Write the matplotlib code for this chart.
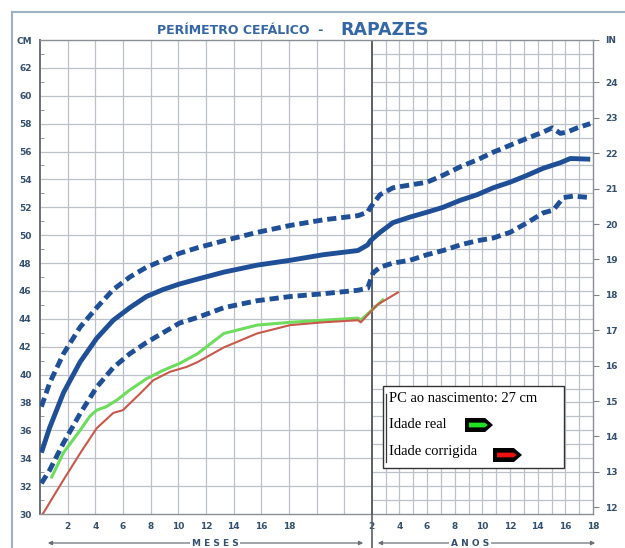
import numpy as np
import matplotlib.pyplot as plt
from matplotlib.patches import Polygon, Rectangle
from matplotlib.lines import Line2D

W, H = 625, 548

# ages in months (birth .. 18 years), head circumference in cm
p97_age = [0.1, 0.7, 1.7, 2.9, 4.1, 5.3, 6.5, 7.7, 8.9, 10.1, 11.4, 13.3, 15.7, 18.1, 20.5, 23.0, 23.7, 23.9,
           31.1, 42.4, 57.2, 72.0, 85.9, 100.7, 115.4, 129.4, 144.0, 159.0, 172.8, 180.7, 187.7, 193.7, 202.4, 213.6]
p97_cm = [37.7, 39.4, 41.5, 43.4, 44.8, 46.1, 47.0, 47.7, 48.2, 48.7, 49.1, 49.6, 50.2, 50.7, 51.1, 51.4, 51.65, 52.0,
          52.9, 53.4, 53.6, 53.8, 54.3, 54.9, 55.4, 55.95, 56.45, 56.95, 57.4, 57.7, 57.3, 57.4, 57.7, 58.0]

p50_age = [0.1, 0.7, 1.7, 2.9, 4.1, 5.3, 6.5, 7.7, 8.9, 10.1, 11.4, 13.3, 15.7, 18.1, 20.5, 23.0, 23.7, 23.9,
           31.1, 42.4, 57.2, 72.0, 85.9, 100.7, 115.4, 129.4, 144.0, 159.0, 172.8, 187.7, 196.3, 213.6]
p50_cm = [34.4, 36.2, 38.7, 40.9, 42.6, 43.9, 44.8, 45.6, 46.1, 46.5, 46.85, 47.35, 47.85, 48.2, 48.6, 48.9, 49.3, 49.6,
          50.2, 50.9, 51.3, 51.65, 52.0, 52.5, 52.9, 53.4, 53.8, 54.3, 54.8, 55.2, 55.5, 55.45]

p3_age = [0.1, 0.7, 1.7, 2.9, 4.1, 5.3, 6.5, 7.7, 8.9, 10.1, 11.4, 13.3, 15.7, 18.1, 20.5, 23.0, 23.7,
          25.1, 31.1, 42.4, 57.2, 72.0, 85.9, 100.7, 115.4, 129.4, 144.0, 159.0, 172.8, 181.6, 190.3, 199.0, 213.6]
p3_cm = [32.2, 33.15, 35.1, 37.2, 39.1, 40.5, 41.5, 42.3, 43.0, 43.7, 44.1, 44.8, 45.3, 45.6, 45.8, 46.05, 46.2,
         47.3, 47.7, 48.0, 48.2, 48.6, 48.9, 49.3, 49.6, 49.8, 50.2, 50.9, 51.6, 51.8, 52.7, 52.8, 52.7]

real_age = [0.85, 1.7, 2.9, 3.6, 4.1, 4.8, 5.6, 6.5, 7.7, 8.9, 10.1, 11.4, 13.3, 15.7, 18.1, 20.5, 23.0, 23.2, 33.6]
real_cm = [32.65, 34.4, 36.0, 37.0, 37.45, 37.7, 38.2, 38.9, 39.7, 40.3, 40.8, 41.5, 42.95, 43.55, 43.75, 43.9,
           44.05, 43.9, 45.35]

corr_age = [0.2, 1.7, 2.9, 4.1, 5.3, 6.0, 7.25, 8.2, 9.4, 10.6, 11.4, 13.3, 15.7, 18.1, 20.5, 23.0, 23.2, 28.6, 46.8]
corr_cm = [30.0, 32.45, 34.35, 36.15, 37.25, 37.45, 38.65, 39.6, 40.2, 40.55, 40.9, 41.95, 42.95, 43.55, 43.75,
           43.9, 43.75, 45.0, 45.9]

month_ticks = [2, 4, 6, 8, 10, 12, 14, 16, 18]
year_ticks = [2, 4, 6, 8, 10, 12, 14, 16, 18]
cm_ticks = list(range(30, 64, 2))
in_ticks = list(range(12, 25))

BLUE = "#1f4f97"
GRID = "#bcc0c8"
LABEL = "#33506e"
TITLE = "#3567a6"
NARROW = ["Liberation Sans Narrow", "DejaVu Sans"]


def fwd(m):
    m = np.asarray(m, dtype=float)
    return np.where(m <= 24, m, 24 + (m - 24) / 12.0)


def inv(u):
    u = np.asarray(u, dtype=float)
    return np.where(u <= 24, u, 24 + (u - 24) * 12.0)


def px(x, y):
    return x / W, 1 - y / H


fig = plt.figure(figsize=(W / 100, H / 100), dpi=100)
ax = fig.add_axes([40 / W, 1 - 514 / H, 553 / W, 474 / H])
ax.set_xscale("function", functions=(fwd, inv))
ax.set_xlim(0, 216)
ax.set_ylim(30, 64)

# grid: coarse in the months part, fine in the years part
ax.vlines(np.arange(2, 24, 2), 30, 64, color=GRID, lw=0.9, zorder=0)
ax.vlines(np.arange(36, 216, 12), 30, 64, color=GRID, lw=0.9, zorder=0)
ax.hlines(np.arange(32, 64, 2), 0, 24, color=GRID, lw=0.9, zorder=0)
ax.hlines(np.arange(31, 64, 1), 24, 216, color=GRID, lw=0.9, zorder=0)
ax.axvline(24, color="#5a5f66", lw=1.4, zorder=1)

dash = dict(color=BLUE, lw=3.5, dashes=(1.9, 1.0), dash_capstyle="butt", zorder=3)
ax.plot(p97_age, p97_cm, **dash)
ax.plot(p3_age, p3_cm, **dash)
ax.plot(p50_age, p50_cm, color=BLUE, lw=3.5, solid_capstyle="butt", zorder=3)
ax.plot(real_age, real_cm, color="#6edc5c", lw=2.2, zorder=4)
ax.plot(corr_age, corr_cm, color="#c8584a", lw=1.5, zorder=5)

for s in ax.spines.values():
    s.set_color("#8a8f96")
    s.set_linewidth(1.0)
ax.spines["left"].set_color("#6b7078")
ax.spines["left"].set_linewidth(1.4)

ax.set_xticks(month_ticks + [12 * y for y in year_ticks])
ax.set_xticklabels([str(m) for m in month_ticks] + [str(y) for y in year_ticks])
ax.xaxis.set_minor_locator(plt.NullLocator())
ax.set_yticks(cm_ticks + [64])
ax.set_yticklabels([str(c) for c in cm_ticks] + ["CM"])
ax.set_yticks(np.arange(31, 64, 2), minor=True)
ax.tick_params(axis="x", length=0, pad=6, labelsize=6.5, labelcolor=LABEL)
ax.tick_params(axis="y", which="major", length=0, pad=6, labelsize=6.5, labelcolor=LABEL)
ax.tick_params(axis="y", which="minor", direction="in", length=3, color="#80858c")
for lab in ax.get_xticklabels() + ax.get_yticklabels():
    lab.set_fontweight("bold")
    lab.set_family(NARROW)

sec = ax.secondary_yaxis("right", functions=(lambda c: c / 2.54, lambda i: i * 2.54))
sec.set_yticks(in_ticks + [64 / 2.54])
sec.set_yticklabels([str(i) for i in in_ticks] + ["IN"])
sec.tick_params(length=4, width=0.8, color="#80858c", pad=5, labelsize=6.5, labelcolor=LABEL)
sec.spines["right"].set_visible(False)
for lab in sec.get_yticklabels():
    lab.set_fontweight("bold")
    lab.set_family(NARROW)

# title
fig.text(*px(240, 31), "PERÍMETRO CEFÁLICO  -", ha="center", va="center", fontsize=9,
         fontweight="bold", color=TITLE, family=NARROW)
fig.text(*px(385, 30), "RAPAZES", ha="center", va="center", fontsize=12.5,
         fontweight="bold", color=TITLE, family=NARROW)

# outer frame of the scanned sheet
fig.add_artist(Line2D([12 / W, 12 / W], [0, 1 - 12 / H], color="#9fb0c0", lw=1.5))
fig.add_artist(Line2D([12 / W, 1], [1 - 12 / H, 1 - 12 / H], color="#9fb0c0", lw=1.5))
fig.add_artist(Line2D([371.5 / W, 371.5 / W], [0, 1 - 514 / H], color="#5a5f66", lw=1.2))

# bottom captions with arrows
ya = 1 - 543 / H
for x0, x1 in [(45, 366), (375, 598)]:
    ax.annotate("", xy=(x0 / W, ya), xytext=(x1 / W, ya), xycoords="figure fraction",
                textcoords="figure fraction",
                arrowprops=dict(arrowstyle="<|-|>", color="#6b7078", lw=0.9, mutation_scale=6))
for x, t in [(215, "M E S E S"), (470, "A N O S")]:
    fig.text(x / W, ya, t, ha="center", va="center", fontsize=6.5, fontweight="bold",
             color=LABEL, family=NARROW, bbox=dict(fc="white", ec="none", pad=1.5))

# legend box
fig.add_artist(Rectangle(px(383, 468), 181 / W, 82 / H, transform=fig.transFigure,
                         fc="white", ec="#333333", lw=1.0, zorder=5))
fig.add_artist(Line2D([386.5 / W, 386.5 / W], [1 - 462 / H, 1 - 394 / H], color="#333333", lw=0.9, zorder=6))
serif = ["Liberation Serif", "DejaVu Serif"]
fig.text(*px(389, 399), "PC ao nascimento: 27 cm", ha="left", va="center", fontsize=10.5,
         family=serif, zorder=6)
fig.text(*px(389, 425), "Idade real", ha="left", va="center", fontsize=10.5, family=serif, zorder=6)
fig.text(*px(389, 452), "Idade corrigida", ha="left", va="center", fontsize=10.5, family=serif, zorder=6)


def arrow_icon(x, y, w, h, color):
    outer = [px(x, y), px(x + w * 0.72, y), px(x + w, y + h / 2), px(x + w * 0.72, y + h), px(x, y + h)]
    inner = [px(x + w * 0.14, y + h * 0.33), px(x + w * 0.7, y + h * 0.33), px(x + w * 0.82, y + h / 2),
             px(x + w * 0.7, y + h * 0.67), px(x + w * 0.14, y + h * 0.67)]
    fig.add_artist(Polygon(outer, closed=True, transform=fig.transFigure, fc="black", ec="none", zorder=6))
    fig.add_artist(Polygon(inner, closed=True, transform=fig.transFigure, fc=color, ec="none", zorder=7))


arrow_icon(465, 418, 28, 14, "#22e022")
arrow_icon(493, 448, 29, 14, "#ee1111")

fig.savefig("out.png", dpi=100)
